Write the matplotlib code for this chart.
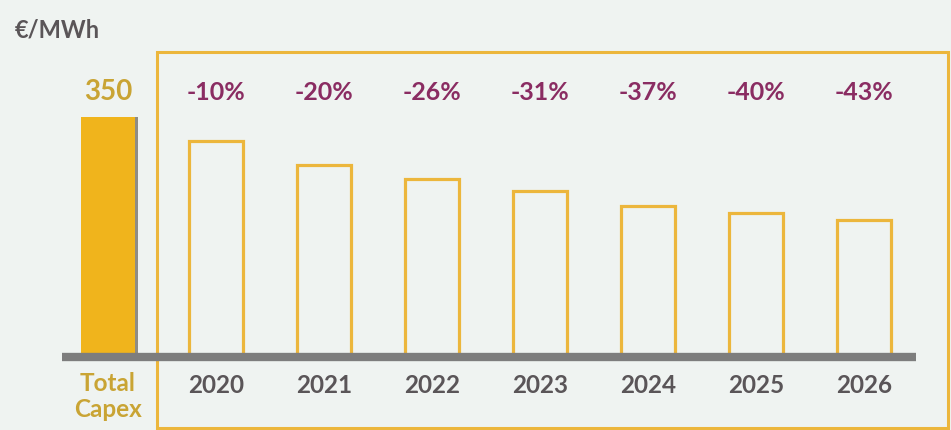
import matplotlib.pyplot as plt
from matplotlib.patches import Rectangle

# data
years = ["2020", "2021", "2022", "2023", "2024", "2025", "2026"]
reductions = [-10, -20, -26, -31, -37, -40, -43]
total_capex = 350
base_label = "Total\nCapex"
unit = "€/MWh"

gold = "#f0b41c"
gold_edge = "#ecb63c"
gold_text = "#c9a434"
purple = "#8a2c62"
grey_text = "#5a5558"
bg = "#eff3f1"

plt.rcParams['font.family'] = ['Lato', 'DejaVu Sans']

fig = plt.figure(figsize=(9.51, 4.30), dpi=100, facecolor=bg)
ax = fig.add_axes([0, 0, 1, 1])
ax.set_facecolor(bg)

# pixel mapping: bar i centred at 108 + 108*i px, baseline at 357 px, 350 -> 240 px
px = 240 / total_capex
ax.set_xlim(-1, (951 - 108) / 108)
ax.set_ylim(-(430 - 357) / px, 357 / px)
ax.axis('off')

values = [total_capex * (1 + r / 100) for r in reductions]
xs = list(range(1, len(years) + 1))

# framed area around the yearly bars
ax.add_patch(Rectangle((0.454, -103.5), 7.78 - 0.454, 444.8 + 103.5,
                       fill=False, edgecolor=gold_edge, lw=2.2, zorder=1))

# total capex bar with a small shadow
ax.bar(0.03, total_capex, width=0.5, color="#8e8c84", zorder=2)
ax.bar(0, total_capex, width=0.5, color=gold, zorder=3)
ax.text(0, total_capex + 37, str(total_capex), ha='center', va='center',
        fontsize=20, color=gold_text, fontweight='bold')
ax.text(0, -57.6, base_label, ha='center', va='center', fontsize=17.5,
        color=gold_text, fontweight='bold', linespacing=1.15)

ax.bar(xs, values, width=0.5, facecolor=bg, edgecolor=gold_edge,
       lw=2.3, zorder=3)

for x, r, y in zip(xs, reductions, years):
    ax.text(x, 386, f"{r}%", ha='center', va='center', fontsize=18,
            color=purple, fontweight='bold')
    ax.text(x, -41, y, ha='center', va='center', fontsize=17.5,
            color=grey_text, fontweight='bold')

# baseline
ax.plot([-0.43, 7.48], [0, 0], color="#7d7d7d", lw=6, solid_capstyle='butt',
        zorder=4)

ax.text(-0.86, 477, unit, ha='left', va='center', fontsize=17,
        color=grey_text, fontweight='bold')

fig.savefig("out.png", dpi=100, facecolor=bg)
